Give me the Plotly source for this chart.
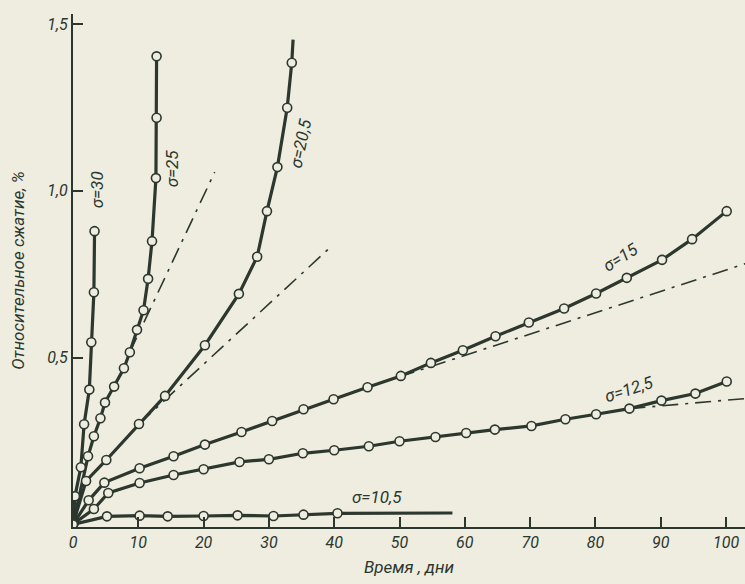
import plotly.graph_objects as go

# ---- data (days, relative compression %) ----
days_30 = [0, 0.3, 1.2, 1.7, 2.5, 2.8, 3.2, 3.3]
vals_30 = [0, 0.084, 0.171, 0.300, 0.404, 0.546, 0.696, 0.879]

days_25 = [0, 2.3, 3.2, 4.2, 4.9, 6.3, 7.8, 8.7, 9.8, 10.8, 11.5, 12.1, 12.7, 12.8, 12.8]
vals_25 = [0, 0.204, 0.264, 0.318, 0.365, 0.413, 0.468, 0.516, 0.583, 0.642, 0.736, 0.849, 1.038, 1.219, 1.403]

days_205 = [0, 2.0, 5.1, 10.1, 14.1, 20.2, 25.4, 28.2, 29.7, 31.3, 32.8, 33.5]
vals_205 = [0, 0.130, 0.193, 0.301, 0.385, 0.537, 0.691, 0.802, 0.939, 1.071, 1.249, 1.384]
ext_days_205 = [33.5, 33.7]
ext_vals_205 = [1.384, 1.453]

days_15 = [0, 2.4, 4.8, 10.2, 15.4, 20.2, 25.8, 30.5, 35.3, 39.9, 45.1, 50.2, 54.8, 59.7,
           64.7, 69.8, 75.2, 80.1, 84.8, 90.2, 94.8, 100.1]
vals_15 = [0, 0.072, 0.125, 0.168, 0.204, 0.239, 0.277, 0.310, 0.345, 0.375, 0.411, 0.445,
           0.484, 0.522, 0.564, 0.605, 0.647, 0.692, 0.739, 0.793, 0.855, 0.939]

days_125 = [0, 3.2, 5.4, 10.2, 15.4, 20.0, 25.5, 30.0, 35.2, 40.0, 45.3, 50.0, 55.5, 60.2,
            64.6, 70.2, 75.4, 80.1, 85.2, 90.1, 95.3, 100.1]
vals_125 = [0, 0.046, 0.094, 0.124, 0.148, 0.165, 0.187, 0.195, 0.213, 0.222, 0.234, 0.249,
            0.262, 0.274, 0.284, 0.295, 0.315, 0.330, 0.347, 0.371, 0.392, 0.428]

days_105 = [0, 5.2, 10.2, 14.5, 20.0, 25.2, 30.7, 35.3, 40.5]
vals_105 = [0, 0.024, 0.026, 0.024, 0.025, 0.027, 0.025, 0.029, 0.033]
ext_days_105 = [40.5, 58.1]
ext_vals_105 = [0.033, 0.034]

# dash-dot extrapolations of the steady-creep stage
dd_days_25 = [8.7, 21.7]
dd_vals_25 = [0.516, 1.056]
dd_days_205 = [10.1, 39.2]
dd_vals_205 = [0.301, 0.827]
dd_days_15 = [45.1, 103.5]
dd_vals_15 = [0.411, 0.785]
dd_days_125 = [85.2, 103.5]
dd_vals_125 = [0.347, 0.378]

labels = ["σ=30", "σ=25", "σ=20,5", "σ=15", "σ=12,5", "σ=10,5"]
label_days = [3.8, 15.3, 34.9, 83.9, 85.2, 46.6]
label_vals = [1.004, 1.067, 1.142, 0.80, 0.405, 0.081]
label_angles = [-90, -90, -78, -32, -18, 0]

x_ticks = [0, 10, 20, 30, 40, 50, 60, 70, 80, 90, 100]
y_ticks = [0.5, 1.0, 1.5]
y_tick_text = ["0,5", "1,0", "1,5"]

# ---- styling ----
INK = "#2c372e"
BG = "#eeede0"
FONT = "Roboto, Liberation Sans Narrow, sans-serif"

fig = go.Figure()

for dx, dy in [(dd_days_25, dd_vals_25), (dd_days_205, dd_vals_205),
               (dd_days_15, dd_vals_15), (dd_days_125, dd_vals_125)]:
    fig.add_trace(go.Scatter(x=dx, y=dy, mode="lines",
                             line=dict(color=INK, width=1.6, dash="16px,7px,3px,7px"),
                             hoverinfo="skip", showlegend=False))

series = [(days_30, vals_30), (days_25, vals_25), (days_205, vals_205),
          (days_15, vals_15), (days_125, vals_125), (days_105, vals_105)]
extensions = [(ext_days_205, ext_vals_205), (ext_days_105, ext_vals_105)]

for dx, dy in series + extensions:
    fig.add_trace(go.Scatter(x=dx, y=dy, mode="lines",
                             line=dict(color=INK, width=3.2),
                             hoverinfo="skip", showlegend=False))

for name, (dx, dy) in zip(labels, series):
    fig.add_trace(go.Scatter(x=dx, y=dy, mode="markers", name=name,
                             marker=dict(symbol="circle", size=9, color=BG,
                                         line=dict(color=INK, width=1.6)),
                             showlegend=False))

for t, xd, yd, a in zip(labels, label_days, label_vals, label_angles):
    fig.add_annotation(x=xd, y=yd, text=t, textangle=a, showarrow=False,
                       font=dict(family=FONT, size=17, color=INK, style="italic"))

fig.update_layout(
    width=745, height=584,
    margin=dict(l=73, r=0, t=14, b=57, autoexpand=False),
    paper_bgcolor=BG, plot_bgcolor=BG,
    font=dict(family=FONT, size=16, color=INK, style="italic"),
    showlegend=False,
)
fig.update_xaxes(range=[0, 102.9], showgrid=False, zeroline=False, automargin=False,
                 showline=True, linecolor=INK, linewidth=2,
                 tickmode="array", tickvals=x_ticks,
                 ticks="inside", ticklen=10, tickwidth=1.5, tickcolor=INK,
                 tickfont=dict(family=FONT, size=16, color=INK, style="italic"),
                 title=dict(text="Время , дни", standoff=10,
                            font=dict(family=FONT, size=17, color=INK, style="italic")))
fig.update_yaxes(range=[-0.008, 1.53], showgrid=False, zeroline=False, automargin=False,
                 showline=True, linecolor=INK, linewidth=2,
                 tickmode="array", tickvals=y_ticks, ticktext=y_tick_text,
                 ticks="inside", ticklen=10, tickwidth=1.5, tickcolor=INK,
                 tickfont=dict(family=FONT, size=16, color=INK, style="italic"),
                 title=dict(text="Относительное сжатие, %", standoff=18,
                            font=dict(family=FONT, size=17, color=INK, style="italic")))

fig.write_html("out.html",
               config={"displayModeBar": False},
               post_script="document.body.style.margin='0';document.body.style.background='%s';" % BG)
